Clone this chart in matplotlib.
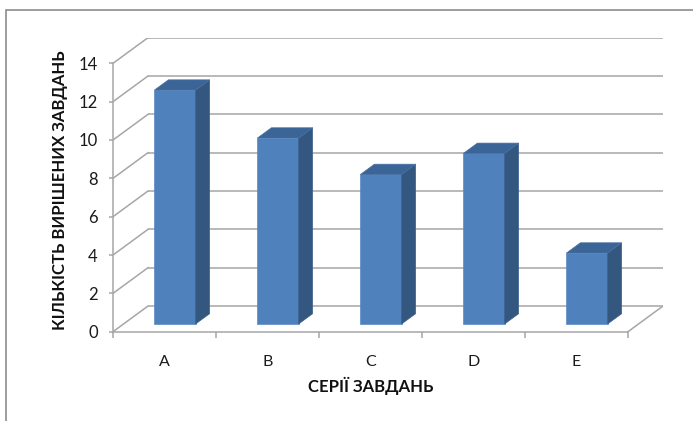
"""Excel-style 3D column chart: solved tasks per task series."""

import matplotlib

matplotlib.use("Agg")
import matplotlib.pyplot as plt
from matplotlib.patches import Polygon, Rectangle

categories = ["A", "B", "C", "D", "E"]
solved = [12.2, 9.7, 7.8, 8.9, 3.7]
y_ticks = [0, 2, 4, 6, 8, 10, 12, 14]
x_title = "СЕРІЇ ЗАВДАНЬ"
y_title = "КІЛЬКІСТЬ ВИРІШЕНИХ ЗАВДАНЬ"

FONT = ["Lato", "Noto Sans", "DejaVu Sans"]
GRID = "#a6a6a6"
FRONT = "#4f81bd"
SIDE = "#34577f"
TOP = "#3c6597"

W, H = 693, 421
PX_X, PX_Y = 103.0, 19.17      # pixels per category / per value unit
DX, DY = 0.34, 1.34            # oblique depth of the floor, in data units
BAR_W = 0.4
D0, D1 = 0.3, 0.7              # bar front / back as fractions of the depth

plt.rcParams["font.family"] = FONT

n = len(categories)
top_val = y_ticks[-1] + DY
fig = plt.figure(figsize=(W / 100, H / 100), dpi=100)
ax = fig.add_axes([113 / W, (H - 331.7) / H, (n + DX) * PX_X / W, top_val * PX_Y / H])
ax.set_xlim(0, n + DX)
ax.set_ylim(0, top_val)

# back wall gridlines and side wall diagonals
for v in y_ticks:
    ax.plot([DX, n + DX], [v + DY, v + DY], color=GRID, lw=1.1, solid_capstyle="butt")
    ax.plot([0, DX], [v, v + DY], color=GRID, lw=1.1)
ax.plot([n, n + DX], [0, DY], color=GRID, lw=1.1)

ddx, ddy = (D1 - D0) * DX, (D1 - D0) * DY
base = D0 * DY
for i, v in enumerate(solved):
    x0 = i + (1 - BAR_W) / 2 + D0 * DX
    x1 = x0 + BAR_W
    ax.add_patch(Rectangle((x0, base), BAR_W, v, fc=FRONT, ec="#5a8ac4", lw=0.5, zorder=3))
    ax.add_patch(Polygon([(x1, base), (x1 + ddx, base + ddy), (x1 + ddx, base + ddy + v), (x1, base + v)],
                         closed=True, fc=SIDE, ec="#3d6190", lw=0.5, zorder=3))
    ax.add_patch(Polygon([(x0, base + v), (x1, base + v), (x1 + ddx, base + v + ddy), (x0 + ddx, base + v + ddy)],
                         closed=True, fc=TOP, ec="#4670a3", lw=0.5, zorder=3))

for side in ("top", "right"):
    ax.spines[side].set_visible(False)
ax.spines["left"].set_bounds(0, y_ticks[-1])
ax.spines["bottom"].set_bounds(0, n)
for side in ("left", "bottom"):
    ax.spines[side].set_color(GRID)
    ax.spines[side].set_linewidth(1.1)

ax.set_yticks(y_ticks)
ax.set_yticklabels([str(t) for t in y_ticks])
ax.tick_params(axis="y", direction="out", length=3, width=1.1, color=GRID, pad=8,
               labelsize=12, labelcolor="#1a1a1a")
ax.set_xticks(range(n + 1))
ax.set_xticklabels([""] * (n + 1))
ax.set_xticks([i + 0.5 for i in range(n)], minor=True)
ax.set_xticklabels(categories, minor=True)
ax.tick_params(axis="x", which="major", direction="out", length=4, width=1.1, color=GRID)
ax.tick_params(axis="x", which="minor", length=0, pad=17, labelsize=11.5, labelcolor="#1a1a1a")
ax.patch.set_visible(False)

fig.text(60 / W, 1 - 190 / H, y_title, rotation=90, ha="center", va="center",
         fontsize=12, fontweight="bold", color="#111111")
fig.text(371 / W, 1 - 386 / H, x_title, ha="center", va="center",
         fontsize=12, fontweight="bold", color="#111111")

fig.add_artist(Rectangle((6 / W, -0.5), 2, 1 - 10 / H + 0.5, transform=fig.transFigure,
                         fill=False, ec="#8c8c8c", lw=1.2))

fig.savefig("out.png", dpi=100)
plt.close(fig)
